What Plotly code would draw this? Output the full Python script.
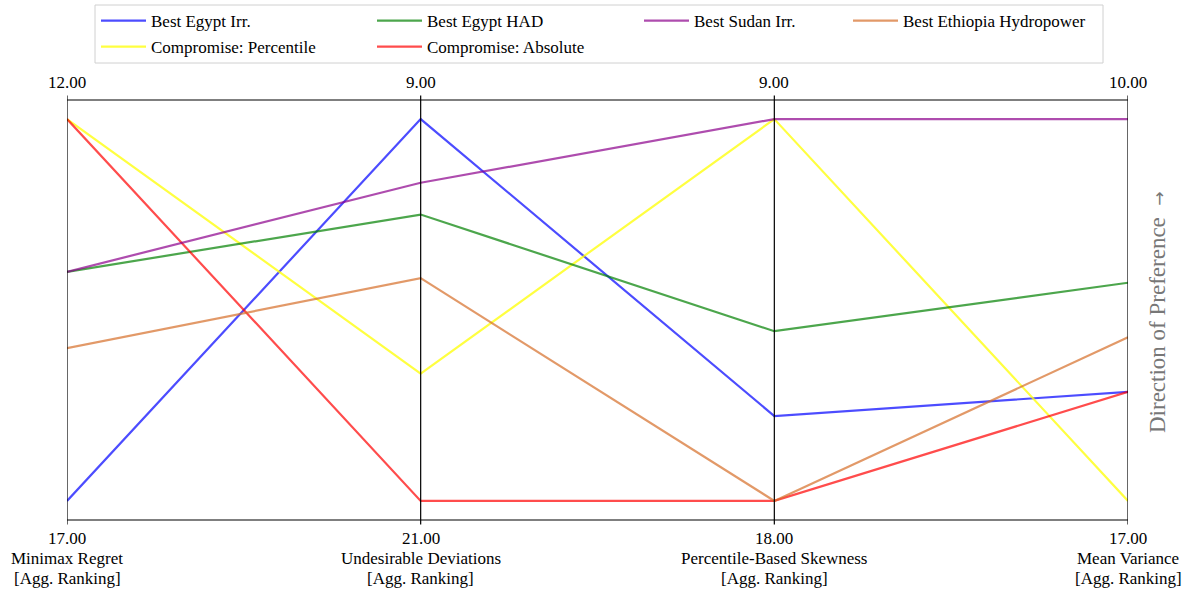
import plotly.graph_objects as go

axes_names = ["Minimax Regret", "Undesirable Deviations", "Percentile-Based Skewness", "Mean Variance"]
axis_top = [12.0, 9.0, 9.0, 10.0]      # preferred (best) value, drawn at top
axis_bottom = [17.0, 21.0, 18.0, 17.0]  # worst value, drawn at bottom

series_names = ["Best Egypt Irr.", "Compromise: Percentile", "Best Egypt HAD",
                "Compromise: Absolute", "Best Sudan Irr.", "Best Ethiopia Hydropower"]
series_values = {
    "Best Egypt Irr.":          [17, 9, 16, 15],
    "Compromise: Percentile":   [12, 17, 9, 17],
    "Best Egypt HAD":           [14, 12, 14, 13],
    "Compromise: Absolute":     [12, 21, 18, 15],
    "Best Sudan Irr.":          [14, 11, 9, 10],
    "Best Ethiopia Hydropower": [15, 14, 18, 14],
}
series_colors = {
    "Best Egypt Irr.":          "rgba(0,0,255,0.7)",
    "Compromise: Percentile":   "rgba(255,255,0,0.75)",
    "Best Egypt HAD":           "rgba(0,128,0,0.7)",
    "Compromise: Absolute":     "rgba(255,0,0,0.7)",
    "Best Sudan Irr.":          "rgba(140,0,140,0.7)",
    "Best Ethiopia Hydropower": "rgba(214,110,40,0.7)",
}
legend_col = {
    "Best Egypt Irr.": "legend", "Compromise: Percentile": "legend",
    "Best Egypt HAD": "legend2", "Compromise: Absolute": "legend2",
    "Best Sudan Irr.": "legend3", "Best Ethiopia Hydropower": "legend4",
}

FONT = "Liberation Serif"
FS = 17
W, H = 1189, 592
L, R, T, B = 67, 61, 100, 72
PW, PH = W - L - R, H - T - B

def norm(v, i):
    return (axis_bottom[i] - v) / (axis_bottom[i] - axis_top[i])

def px_x(x):
    return (x - L) / PW

def px_y(y):
    return (H - B - y) / PH

fig = go.Figure()
xs = list(range(len(axes_names)))
for name in series_names:
    ys = [norm(v, i) for i, v in enumerate(series_values[name])]
    fig.add_trace(go.Scatter(x=xs, y=ys, mode="lines", name=name,
                             line=dict(color=series_colors[name], width=2.2),
                             legend=legend_col[name], legendgroup=name,
                             hoverinfo="name"))

for i in xs:
    fig.add_shape(type="line", xref="x", yref="paper", x0=i, x1=i, y0=-0.011, y1=1.011,
                  line=dict(color="black", width=1.2))
    fig.add_annotation(x=i, y=1.0, xref="x", yref="paper", text=f"{axis_top[i]:.2f}",
                       showarrow=False, yanchor="middle", yshift=18,
                       font=dict(family=FONT, size=FS, color="black"))
    bottom_lines = [f"{axis_bottom[i]:.2f}", axes_names[i], "[Agg. Ranking]"]
    for k, t in enumerate(bottom_lines):
        fig.add_annotation(x=i, y=0.0, xref="x", yref="paper", text=t,
                           showarrow=False, yanchor="middle", yshift=-(18 + 20 * k),
                           font=dict(family=FONT, size=FS, color="black"))
for yy in (0, 1):
    fig.add_shape(type="line", xref="paper", yref="paper", x0=0, x1=1, y0=yy, y1=yy,
                  line=dict(color="black", width=1.2))

fig.add_annotation(x=1.0, y=0.5, xref="paper", yref="paper",
                   text="Direction of Preference  <span style='font-family:DejaVu Sans;font-size:17px'>→</span>",
                   textangle=-90, showarrow=False, xanchor="center", xshift=29, yshift=-2,
                   font=dict(family=FONT, size=23, color="#777777"))

# legend frame
fig.add_shape(type="rect", xref="paper", yref="paper",
              x0=px_x(95), x1=px_x(1103), y0=px_y(63), y1=px_y(5),
              line=dict(color="#d0d0d0", width=1), fillcolor="white", layer="below")

leg_common = dict(orientation="v", bgcolor="rgba(0,0,0,0)", borderwidth=0,
                  font=dict(family=FONT, size=FS, color="black"),
                  yanchor="top", xanchor="left", y=px_y(3), tracegroupgap=1,
                  itemwidth=45)
col_x = [101, 377, 644, 853]
fig.update_layout(
    legend=dict(x=px_x(col_x[0] - 5), **leg_common),
    legend2=dict(x=px_x(col_x[1] - 5), **leg_common),
    legend3=dict(x=px_x(col_x[2] - 5), **leg_common),
    legend4=dict(x=px_x(col_x[3] - 5), **leg_common),
)

fig.update_layout(
    width=W, height=H,
    margin=dict(l=L, r=R, t=T, b=B, autoexpand=False),
    plot_bgcolor="white", paper_bgcolor="white",
    xaxis=dict(range=[0, 3], visible=False, fixedrange=True),
    yaxis=dict(range=[-0.05, 1.05], visible=False, fixedrange=True),
    font=dict(family=FONT),
    showlegend=True,
)
fig.write_html("out.html", config={"displayModeBar": False},
               post_script="document.body.style.margin='0px';document.body.style.padding='0px';"
                           "document.body.style.overflow='hidden';")
